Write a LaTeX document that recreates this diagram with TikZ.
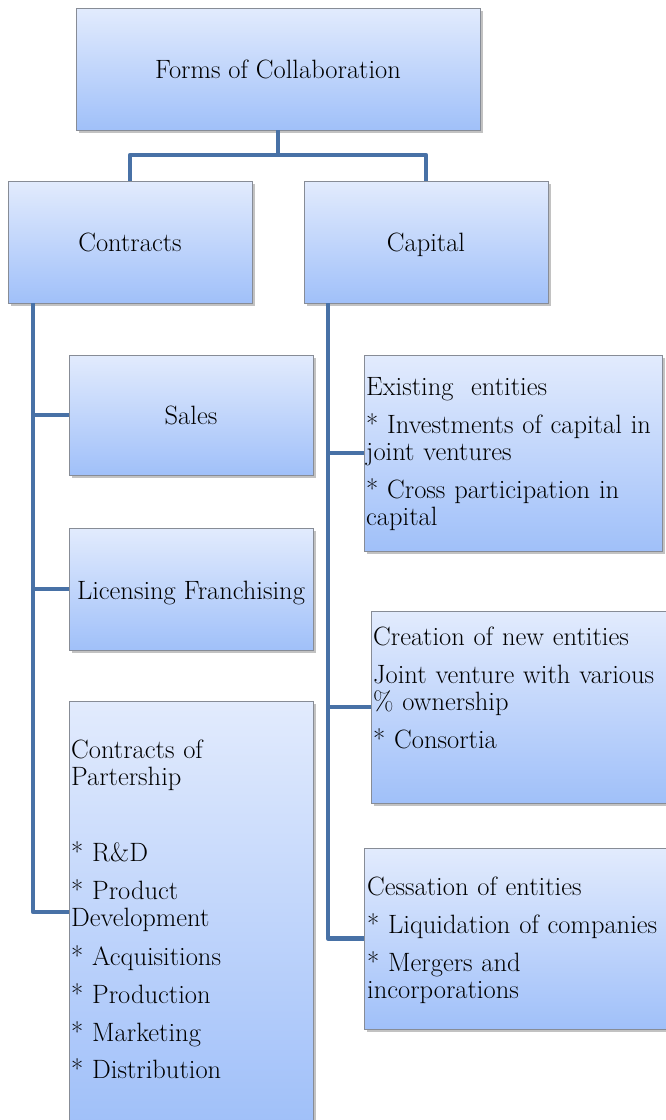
\documentclass[tikz,border=0pt]{standalone}
\usetikzlibrary{shadows}
\definecolor{boxtop}{RGB}{226,235,253}
\definecolor{boxbot}{RGB}{160,192,249}
\definecolor{boxedge}{RGB}{135,140,150}
\definecolor{linkcol}{RGB}{72,113,166}
\begin{document}
\begin{tikzpicture}[x=1pt,y=-1pt,
  boxnode/.style={draw=boxedge, line width=0.8pt, top color=boxtop, bottom color=boxbot,
    inner sep=0pt, text height=18pt, text depth=0pt,
    drop shadow={shadow xshift=2.5pt, shadow yshift=-2.5pt, opacity=0.4, fill=black!60},
    font=\fontsize{26.5}{27}\selectfont},
  boxtext/.style={anchor=base west, inner sep=0pt, text width=#1, align=left,
    font=\fontsize{26.5}{27}\selectfont},
  boxtext/.default=310pt,
  link/.style={draw=linkcol, line width=4.5pt, line join=round}
]
\useasboundingbox (0,0) rectangle (666,1120);
\clip (0,0) rectangle (666,1120);

% boxes
\node[boxnode, minimum width=404pt, minimum height=122pt] (top) at (278,69) {Forms of Collaboration};
\node[boxnode, minimum width=244pt, minimum height=122pt] (contracts) at (130,242) {Contracts};
\node[boxnode, minimum width=244pt, minimum height=122pt] (capital) at (426,242) {Capital};
\node[boxnode, minimum width=244pt, minimum height=120pt] (sales) at (191,415) {Sales};
\node[boxnode, minimum width=244pt, minimum height=122pt, text height=21pt] (lic) at (191,589) {Licensing Franchising};
\node[boxnode, minimum width=244pt, minimum height=422pt] (part) at (191,912) {};
\node[boxnode, minimum width=298pt, minimum height=196pt] (exist) at (513,453) {};
\node[boxnode, minimum width=299pt, minimum height=192pt] (creat) at (520.5,707) {};
\node[boxnode, minimum width=304pt, minimum height=181pt] (cess) at (516,938.5) {};

% texts of the list boxes
\node[boxtext=240pt] (parttext) at (71,758) {Contracts of\\ Partership\\[49pt]
  * R\&D\\[11pt]
  * Product\\ Development\\[12pt]
  * Acquisitions\\[11pt]
  * Production\\[11pt]
  * Marketing\\[10pt]
  * Distribution};
\node[boxtext] (existtext) at (366,395) {Existing\ \ entities\\[11pt]
  * Investments of capital in\\ joint ventures\\[11pt]
  * Cross participation in\\ capital};
\node[boxtext] (creattext) at (373,645) {Creation of new entities\\[11pt]
  Joint venture with various\\ \% ownership\\[11pt]
  * Consortia};
\node[boxtext] (cesstext) at (367,895) {Cessation of entities\\[11pt]
  * Liquidation of companies\\[11pt]
  * Mergers and\\ incorporations};

% connectors
\coordinate (tj) at (278,155);
\draw[link] (top.south) -- (tj);
\draw[link] (contracts.north) |- (tj) -| (capital.north);

\coordinate (ltop) at (33,303);
\draw[link] (ltop) |- (part.west);
\draw[link] (ltop |- sales.west) -- (sales.west);
\draw[link] (ltop |- lic.west) -- (lic.west);

\coordinate (rtop) at (328,303);
\draw[link] (rtop) |- (cess.west);
\draw[link] (rtop |- exist.west) -- (exist.west);
\draw[link] (rtop |- creat.west) -- (creat.west);
\end{tikzpicture}
\end{document}
